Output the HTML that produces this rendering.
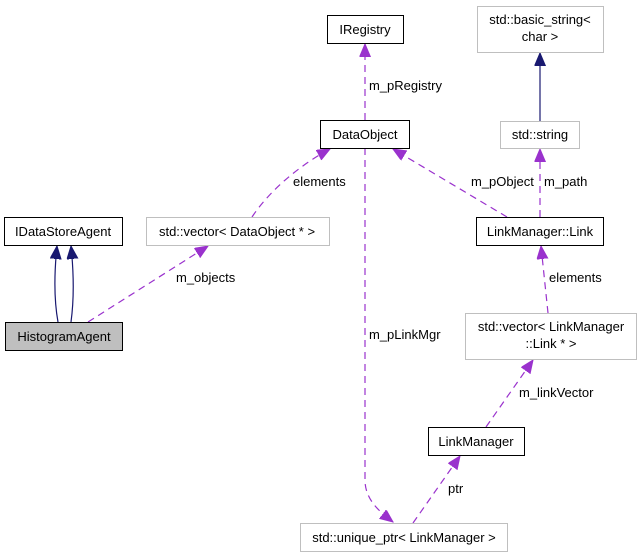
<!DOCTYPE html>
<html><head><meta charset="utf-8"><style>
html,body{margin:0;padding:0;background:#fff;}
svg{display:block;}
text{font-family:"Liberation Sans",sans-serif;font-size:13px;fill:#000;}
</style></head><body>
<svg width="641" height="557" viewBox="0 0 641 557" xmlns="http://www.w3.org/2000/svg">
<defs>
<marker id="p" markerWidth="14" markerHeight="12" refX="13" refY="5.5" orient="auto" markerUnits="userSpaceOnUse"><path d="M0,0 L13,5.5 L0,11 Z" fill="#9a32cd" stroke="#9a32cd"/></marker>
<marker id="n" markerWidth="14" markerHeight="12" refX="13" refY="5.5" orient="auto" markerUnits="userSpaceOnUse"><path d="M0,0 L13,5.5 L0,11 Z" fill="#191970" stroke="#191970"/></marker>
</defs>
<g fill="none" stroke-width="1.2">
<path d="M58,322 C54,300 54,275 57,246" stroke="#191970" marker-end="url(#n)"/>
<path d="M71,322 C74,300 74,275 71,246" stroke="#191970" marker-end="url(#n)"/>
<path d="M540,121 L540,53" stroke="#191970" marker-end="url(#n)"/>
<g stroke="#9a32cd" stroke-dasharray="7,5">
<path d="M88,322 L208,246" marker-end="url(#p)"/>
<path d="M252,217 C270,190 300,165 330,149" marker-end="url(#p)"/>
<path d="M365,148 L365,480 C365,500 380,512 393,522" marker-end="url(#p)"/>
<path d="M365,120 L365,44" marker-end="url(#p)"/>
<path d="M507,217 L393,149" marker-end="url(#p)"/>
<path d="M540,217 L540,149" marker-end="url(#p)"/>
<path d="M548,313 L541,246" marker-end="url(#p)"/>
<path d="M486,427 L533,360" marker-end="url(#p)"/>
<path d="M413,523 L460,456" marker-end="url(#p)"/>
</g>
</g>
<g stroke-width="1">
<rect x="327.5" y="15.5" width="76" height="28" fill="#fff" stroke="#000"/>
<rect x="477.5" y="6.5" width="126" height="46" fill="#fff" stroke="#bfbfbf"/>
<rect x="320.5" y="120.5" width="89" height="28" fill="#fff" stroke="#000"/>
<rect x="500.5" y="121.5" width="79" height="27" fill="#fff" stroke="#bfbfbf"/>
<rect x="4.5" y="217.5" width="118" height="28" fill="#fff" stroke="#000"/>
<rect x="146.5" y="217.5" width="183" height="28" fill="#fff" stroke="#bfbfbf"/>
<rect x="476.5" y="217.5" width="127" height="28" fill="#fff" stroke="#000"/>
<rect x="5.5" y="322.5" width="117" height="28" fill="#bfbfbf" stroke="#000"/>
<rect x="465.5" y="313.5" width="171" height="46" fill="#fff" stroke="#bfbfbf"/>
<rect x="428.5" y="427.5" width="96" height="28" fill="#fff" stroke="#000"/>
<rect x="300.5" y="523.5" width="207" height="28" fill="#fff" stroke="#bfbfbf"/>
</g>
<g text-anchor="middle">
<text x="365" y="34">IRegistry</text>
<text x="540" y="24">std::basic_string&lt;</text>
<text x="540" y="41">char &gt;</text>
<text x="365" y="139">DataObject</text>
<text x="540" y="139">std::string</text>
<text x="63" y="236">IDataStoreAgent</text>
<text x="237" y="236">std::vector&lt; DataObject * &gt;</text>
<text x="540" y="236">LinkManager::Link</text>
<text x="64" y="341">HistogramAgent</text>
<text x="551" y="331">std::vector&lt; LinkManager</text>
<text x="551" y="348">::Link * &gt;</text>
<text x="476" y="446">LinkManager</text>
<text x="404" y="542">std::unique_ptr&lt; LinkManager &gt;</text>
</g>
<text x="369" y="90">m_pRegistry</text>
<text x="293" y="186">elements</text>
<text x="471" y="186">m_pObject</text>
<text x="544" y="186">m_path</text>
<text x="176" y="282">m_objects</text>
<text x="549" y="282">elements</text>
<text x="369" y="339">m_pLinkMgr</text>
<text x="519" y="397">m_linkVector</text>
<text x="448" y="493">ptr</text>
</svg>
</body></html>
